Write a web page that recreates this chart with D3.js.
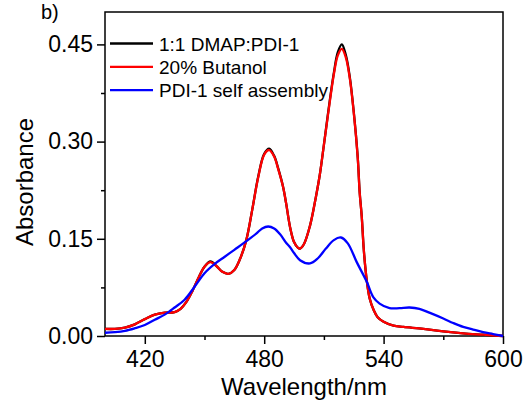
<!DOCTYPE html>
<html>
<head>
<meta charset="utf-8">
<script src="https://cdn.jsdelivr.net/npm/d3@7"></script>
<style>
  body { margin: 0; background: #fff; }
  text { font-family: Arial, "Liberation Sans", sans-serif; fill: #000; }
</style>
</head>
<body>
<script>
// data (wavelength in nm, absorbance)
var blackNm = [400, 405, 410, 415, 420, 425, 430, 435, 438, 441, 444, 447, 450, 453, 456, 459, 462, 465, 468, 471, 474, 477, 480, 482.5, 485, 487, 489.5, 491, 493, 495, 497, 498, 500, 503, 506, 508, 510, 512, 515, 517, 519, 521, 523, 525, 527, 528, 529, 530, 531, 532, 533, 535, 537, 540, 545, 550, 560, 570, 580, 590, 600];
var blackAbs = [0.011, 0.011, 0.013, 0.018, 0.026, 0.033, 0.036, 0.037, 0.042, 0.053, 0.070, 0.090, 0.107, 0.115, 0.108, 0.099, 0.096, 0.102, 0.120, 0.148, 0.195, 0.246, 0.281, 0.289, 0.278, 0.259, 0.230, 0.205, 0.168, 0.145, 0.136, 0.135, 0.142, 0.170, 0.215, 0.250, 0.295, 0.342, 0.406, 0.438, 0.450, 0.434, 0.400, 0.346, 0.276, 0.221, 0.185, 0.135, 0.100, 0.075, 0.058, 0.040, 0.029, 0.022, 0.016, 0.014, 0.011, 0.007, 0.004, 0.002, 0.000];

var redNm = [400, 405, 410, 415, 420, 425, 430, 435, 438, 441, 444, 447, 450, 453, 456, 459, 462, 465, 468, 471, 474, 477, 480, 482.5, 485, 487, 489.5, 491, 493, 495, 497, 498, 500, 503, 506, 508, 510, 512, 515, 517, 519, 521, 523, 525, 527, 528, 529, 530, 531, 532, 533, 535, 537, 540, 545, 550, 560, 570, 580, 590, 600];
var redAbs = [0.011, 0.011, 0.013, 0.018, 0.026, 0.033, 0.036, 0.037, 0.042, 0.053, 0.070, 0.090, 0.107, 0.114, 0.108, 0.099, 0.096, 0.102, 0.120, 0.148, 0.195, 0.245, 0.280, 0.287, 0.277, 0.258, 0.230, 0.205, 0.168, 0.145, 0.136, 0.135, 0.142, 0.170, 0.215, 0.250, 0.295, 0.340, 0.404, 0.433, 0.443, 0.430, 0.398, 0.345, 0.275, 0.220, 0.185, 0.135, 0.100, 0.075, 0.058, 0.040, 0.029, 0.022, 0.016, 0.014, 0.011, 0.007, 0.004, 0.002, 0.000];

var blueNm = [400, 405, 410, 415, 420, 425, 430, 435, 440, 445, 450, 455, 460, 465, 470, 476, 479, 482, 485, 488, 491, 493, 495, 498, 503, 507, 511, 515, 518.5, 522, 526.5, 531.5, 534.8, 538, 543, 548, 553, 558, 563, 570, 575, 580, 585, 590, 595, 600];
var blueAbs = [0.005, 0.006, 0.008, 0.012, 0.017, 0.025, 0.033, 0.044, 0.056, 0.076, 0.097, 0.111, 0.122, 0.133, 0.144, 0.158, 0.166, 0.169, 0.166, 0.157, 0.144, 0.137, 0.128, 0.117, 0.112, 0.120, 0.135, 0.148, 0.152, 0.143, 0.114, 0.084, 0.060, 0.050, 0.043, 0.043, 0.044, 0.042, 0.036, 0.027, 0.020, 0.014, 0.010, 0.006, 0.003, 0.000];

var seriesNames = ["1:1 DMAP:PDI-1", "20% Butanol", "PDI-1 self assembly"];
var seriesColors = ["#000000", "#ff0000", "#0000ff"];

var xMajor = [420, 480, 540, 600];
var xMinor = [450, 510, 570];
var yMajor = [0, 0.15, 0.30, 0.45];
var yMinor = [0.075, 0.225, 0.375];

// set the dimensions and margins of the graph
var margin = {top: 12, right: 22, bottom: 64, left: 105},
    width = 525 - margin.left - margin.right,
    height = 400 - margin.top - margin.bottom;

var svg = d3.select("body")
  .append("svg")
    .attr("width", 525)
    .attr("height", 400)
  .append("g")
    .attr("transform", "translate(" + margin.left + "," + margin.top + ")");

var x = d3.scaleLinear().domain([400, 600]).range([0, width]);
var y = d3.scaleLinear().domain([0, 0.5]).range([height, 0]);

// minor ticks first, then major axes on top
svg.append("g")
  .attr("transform", "translate(0," + height + ")")
  .call(d3.axisBottom(x).tickValues(xMinor).tickSize(4).tickFormat(""));
svg.append("g")
  .call(d3.axisLeft(y).tickValues(yMinor).tickSize(4).tickFormat(""));

var xAxis = svg.append("g")
  .attr("transform", "translate(0," + height + ")")
  .call(d3.axisBottom(x).tickValues(xMajor).tickSize(8).tickPadding(7).tickFormat(d3.format("d")));
var yAxis = svg.append("g")
  .call(d3.axisLeft(y).tickValues(yMajor).tickSize(8).tickPadding(4).tickFormat(d3.format(".2f")));

svg.selectAll(".tick text").style("font-size", "23px");
svg.selectAll(".domain, .tick line").attr("stroke", "#000").attr("stroke-width", 1.5);
svg.selectAll(".domain").attr("d", null);

// frame round the plot
svg.append("rect")
  .attr("width", width)
  .attr("height", height)
  .attr("fill", "none")
  .attr("stroke", "#000")
  .attr("stroke-width", 1.5);

// the curves
var line = d3.line()
  .x(function(d) { return x(d[0]); })
  .y(function(d) { return y(d[1]); })
  .curve(d3.curveCatmullRom.alpha(0.5));

var curves = [
  d3.zip(blackNm, blackAbs),
  d3.zip(redNm, redAbs),
  d3.zip(blueNm, blueAbs)
];

curves.forEach(function(data, i) {
  svg.append("path")
    .datum(data)
    .attr("fill", "none")
    .attr("stroke", seriesColors[i])
    .attr("stroke-width", 2.3)
    .attr("d", line);
});

// legend
var legend = svg.append("g").attr("transform", "translate(5,31.5)");
seriesNames.forEach(function(name, i) {
  legend.append("line")
    .attr("x1", 0).attr("x2", 43)
    .attr("y1", i * 23.3).attr("y2", i * 23.3)
    .attr("stroke", seriesColors[i])
    .attr("stroke-width", 2.3);
  legend.append("text")
    .attr("x", 49)
    .attr("y", i * 23.3)
    .attr("dy", "0.38em")
    .style("font-size", "19px")
    .text(name);
});

// axis titles
svg.append("text")
  .attr("x", width / 2)
  .attr("y", height + 59)
  .attr("text-anchor", "middle")
  .style("font-size", "24px")
  .text("Wavelength/nm");

svg.append("text")
  .attr("transform", "translate(" + (33 - margin.left) + "," + (182 - margin.top) + ") rotate(-90)")
  .attr("text-anchor", "middle")
  .style("font-size", "24px")
  .text("Absorbance");

// panel letter, kept just inside the top edge
svg.append("text")
  .attr("x", 41 - margin.left)
  .attr("y", 19 - margin.top)
  .style("font-size", "20px")
  .text("b)");
</script>
</body>
</html>
